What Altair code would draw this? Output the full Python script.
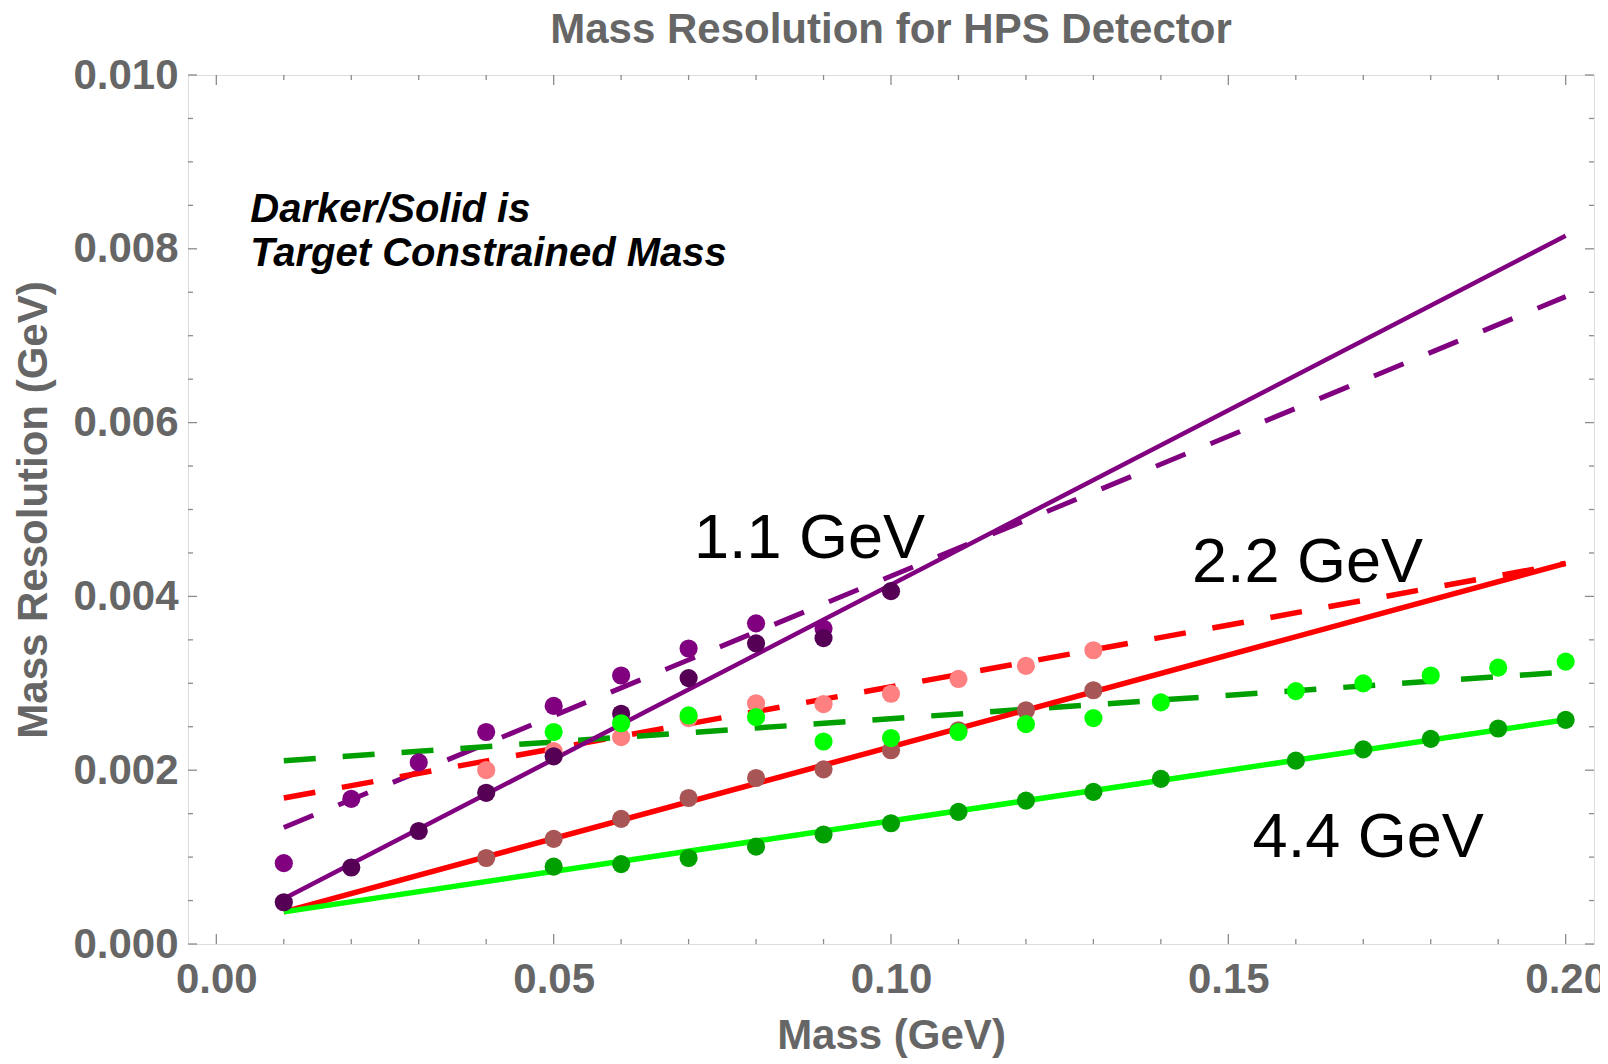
import altair as alt
import pandas as pd

# ---------------- data ----------------
# 1.1 GeV beam
mass_11_tc = [0.01, 0.02, 0.03, 0.04, 0.05, 0.06, 0.07, 0.08, 0.09, 0.10]
res_11_tc = [0.00048, 0.00088, 0.00130, 0.00174, 0.00216, 0.00265, 0.00306, 0.00346, 0.00352, 0.00406]
mass_11_unc = [0.01, 0.02, 0.03, 0.04, 0.05, 0.06, 0.07, 0.08, 0.09]
res_11_unc = [0.00093, 0.00167, 0.00209, 0.00244, 0.00274, 0.00309, 0.00340, 0.00369, 0.00363]

# 2.2 GeV beam
mass_22 = [0.04, 0.05, 0.06, 0.07, 0.08, 0.09, 0.10, 0.11, 0.12, 0.13]
res_22_tc = [0.00099, 0.00121, 0.00144, 0.00168, 0.00191, 0.00201, 0.00223, 0.00246, 0.00269, 0.00292]
res_22_unc = [0.00200, 0.00222, 0.00238, 0.00260, 0.00277, 0.00276, 0.00288, 0.00305, 0.00320, 0.00338]

# 4.4 GeV beam
mass_44 = [0.05, 0.06, 0.07, 0.08, 0.09, 0.10, 0.11, 0.12, 0.13, 0.14, 0.16, 0.17, 0.18, 0.19, 0.20]
res_44_tc = [0.00089, 0.00092, 0.00099, 0.00112, 0.00126, 0.00139, 0.00152, 0.00165, 0.00175, 0.00190,
             0.00211, 0.00224, 0.00236, 0.00248, 0.00258]
res_44_unc = [0.00244, 0.00254, 0.00263, 0.00261, 0.00233, 0.00237, 0.00244, 0.00253, 0.00260, 0.00278,
              0.00291, 0.00300, 0.00309, 0.00318, 0.00325]

# linear fits (end points)
fit_x = [0.01, 0.20]
fit_11_tc = [0.00052, 0.00815]
fit_11_unc = [0.00134, 0.00745]
fit_22_tc = [0.00037, 0.00438]
fit_22_unc = [0.00168, 0.00438]
fit_44_tc = [0.00037, 0.00258]
fit_44_unc = [0.00211, 0.00313]

# axis ticks
x_major = [0.0, 0.05, 0.10, 0.15, 0.20]
x_minor = [0.01, 0.02, 0.03, 0.04, 0.06, 0.07, 0.08, 0.09, 0.11, 0.12, 0.13, 0.14,
           0.16, 0.17, 0.18, 0.19]
y_major = [0.0, 0.002, 0.004, 0.006, 0.008, 0.010]
y_minor = [0.0005, 0.001, 0.0015, 0.0025, 0.003, 0.0035, 0.0045, 0.005, 0.0055,
           0.0065, 0.007, 0.0075, 0.0085, 0.009, 0.0095]

# annotations
note_text = ["Darker/Solid is", "Target Constrained Mass"]
note_x = [0.00504, 0.00504]
note_y = [0.00831, 0.00780]
beam_text = ["1.1 GeV", "2.2 GeV", "4.4 GeV"]
beam_x = [0.0708, 0.1446, 0.1536]
beam_y = [0.00444, 0.00416, 0.00100]

# ---------------- build tables ----------------
W, H = 1406, 869
GRAY = "#666666"
FRAME = "#8c8c8c"
FONT = "Liberation Sans"

xs = alt.Scale(domain=[-0.0042, 0.2042], nice=False, zero=False)
ys = alt.Scale(domain=[0.0, 0.010], nice=False, zero=False)

point_series = [
    ("2.2 unc", mass_22, res_22_unc, "#ff8080"),
    ("2.2 tc", mass_22, res_22_tc, "#a85555"),
    ("1.1 unc", mass_11_unc, res_11_unc, "#800080"),
    ("1.1 tc", mass_11_tc, res_11_tc, "#550055"),
    ("4.4 tc", mass_44, res_44_tc, "#00a000"),
    ("4.4 unc", mass_44, res_44_unc, "#00ff00"),
]
rows = []
for i, (name, mx, ry, col) in enumerate(point_series):
    for k, (a, b) in enumerate(zip(mx, ry)):
        rows.append({"series": name, "m": a, "r": b, "ord": i * 100 + k})
pts = pd.DataFrame(rows)

def line_layer(yvals, color, width, dash=None):
    df = pd.DataFrame({"m": fit_x, "r": yvals})
    kw = dict(color=color, strokeWidth=width, clip=True)
    if dash:
        kw["strokeDash"] = dash
    return alt.Chart(df).mark_line(**kw).encode(
        x=alt.X("m:Q", scale=xs), y=alt.Y("r:Q", scale=ys)
    )

DASH = [32, 27]
lines = [
    line_layer(fit_11_unc, "#800080", 5, DASH),
    line_layer(fit_22_unc, "#ff0000", 5.5, DASH),
    line_layer(fit_44_unc, "#00a000", 5.5, DASH),
    line_layer(fit_11_tc, "#800080", 4.5),
    line_layer(fit_22_tc, "#ff0000", 5.5),
    line_layer(fit_44_tc, "#00ff00", 5.5),
]

axes_layer = alt.Chart(pd.DataFrame({"m": [0.0], "r": [0.0]})).mark_point(opacity=0).encode(
    x=alt.X("m:Q", scale=xs, title="Mass (GeV)",
            axis=alt.Axis(values=x_major, format=".2f", ticks=False, tickSize=0, domain=False,
                          grid=False, labelFont=FONT, labelFontSize=42, labelFontWeight="bold",
                          labelColor=GRAY, labelPadding=15, labelFlush=False, labelOverlap=False,
                          titleFont=FONT, titleFontSize=42, titleFontWeight="bold",
                          titleColor=GRAY, titleX=W / 2, titleY=104, titleAlign="center",
                          titleBaseline="alphabetic")),
    y=alt.Y("r:Q", scale=ys, title="Mass Resolution (GeV)",
            axis=alt.Axis(values=y_major, format=".3f", ticks=False, tickSize=0, domain=False,
                          grid=False, labelFont=FONT, labelFontSize=42, labelFontWeight="bold",
                          labelColor=GRAY, labelPadding=10, labelFlush=False, labelOverlap=False,
                          titleFont=FONT, titleFontSize=42, titleFontWeight="bold",
                          titleColor=GRAY, titleX=-142, titleY=H / 2, titleAngle=270,
                          titleAlign="center", titleBaseline="alphabetic")),
)

def xticks(vals, length):
    df = pd.DataFrame({"m": vals})
    bottom = alt.Chart(df).mark_rule(color=FRAME, strokeWidth=1.3).encode(
        x=alt.X("m:Q", scale=xs), y=alt.value(H), y2=alt.value(H - length))
    top = alt.Chart(df).mark_rule(color=FRAME, strokeWidth=1.3).encode(
        x=alt.X("m:Q", scale=xs), y=alt.value(0), y2=alt.value(length))
    return [bottom, top]

def yticks(vals, length):
    df = pd.DataFrame({"r": vals})
    left = alt.Chart(df).mark_rule(color=FRAME, strokeWidth=1.3).encode(
        y=alt.Y("r:Q", scale=ys), x=alt.value(0), x2=alt.value(length))
    right = alt.Chart(df).mark_rule(color=FRAME, strokeWidth=1.3).encode(
        y=alt.Y("r:Q", scale=ys), x=alt.value(W), x2=alt.value(W - length))
    return [left, right]

tick_layers = xticks(x_major, 10) + xticks(x_minor, 5) + yticks(y_major, 9) + yticks(y_minor, 5)

points = alt.Chart(pts).mark_circle(size=330, opacity=1).encode(
    x=alt.X("m:Q", scale=xs),
    y=alt.Y("r:Q", scale=ys),
    color=alt.Color("series:N",
                    scale=alt.Scale(domain=[s[0] for s in point_series],
                                    range=[s[3] for s in point_series]),
                    legend=None),
    order=alt.Order("ord:Q"),
)

notes = alt.Chart(pd.DataFrame({"t": note_text, "m": note_x, "r": note_y})).mark_text(
    font=FONT, fontSize=40, fontWeight="bold", fontStyle="italic", color="black",
    align="left", baseline="alphabetic"
).encode(x=alt.X("m:Q", scale=xs), y=alt.Y("r:Q", scale=ys), text="t:N")

beams = alt.Chart(pd.DataFrame({"t": beam_text, "m": beam_x, "r": beam_y})).mark_text(
    font=FONT, fontSize=63, color="black", align="left", baseline="alphabetic"
).encode(x=alt.X("m:Q", scale=xs), y=alt.Y("r:Q", scale=ys), text="t:N")

chart = alt.layer(axes_layer, *tick_layers, *lines, points, notes, beams).properties(
    width=W, height=H,
    title=alt.TitleParams(text="Mass Resolution for HPS Detector", font=FONT, fontSize=42,
                          fontWeight="bold", color=GRAY, anchor="middle", offset=2),
    autosize=alt.AutoSizeParams(type="none"),
    padding={"left": 180, "top": 67, "right": 6, "bottom": 114},
).configure_view(stroke=FRAME, strokeWidth=1.5).configure(background="white")

chart.save("out.html", embed_options={"renderer": "svg", "actions": False})
